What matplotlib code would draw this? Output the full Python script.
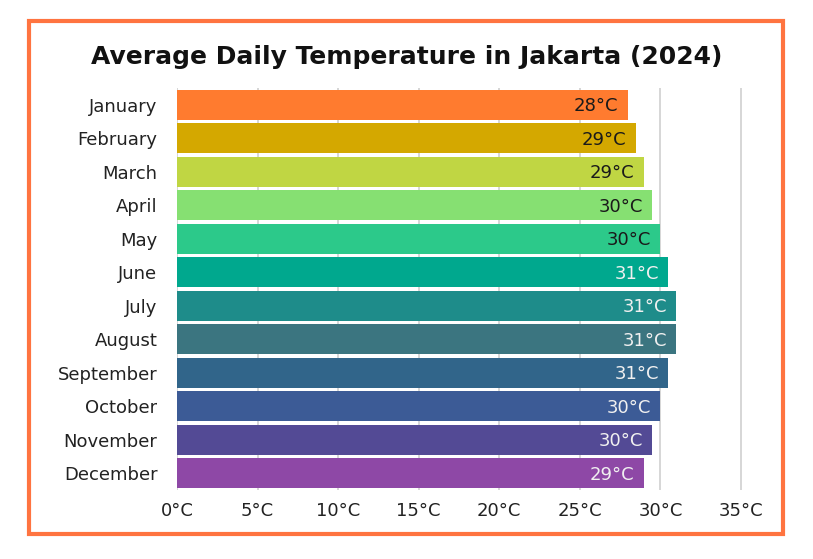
import matplotlib
matplotlib.use("Agg")
from matplotlib import pyplot as plt
from matplotlib.patches import Rectangle

plt.rcParams['font.family'] = ['DejaVu Sans']

# data
months = ["January", "February", "March", "April", "May", "June",
          "July", "August", "September", "October", "November", "December"]
temps = [28, 28.5, 29, 29.5, 30, 30.5, 31, 31, 30.5, 30, 29.5, 29]
bar_colors = ["#FF7B2F", "#D4A800", "#C0D643", "#86E072", "#2CC98A", "#00A88E",
              "#1E8C8A", "#3B7580", "#31658A", "#3C5B96", "#534A95", "#8E48A6"]
label_colors = ["#1a1a1a"] * 5 + ["#f0f0f0"] * 7
ticks = [0, 5, 10, 15, 20, 25, 30, 35]

fig = plt.figure(figsize=(8.13, 5.59), dpi=100)
W, H = 813, 559
ax = fig.add_axes([177 / W, 1 - 490 / H, (749 - 177) / W, (490 - 88) / H])

ypos = list(range(len(months)))
ax.barh(ypos, temps, height=0.9, color=bar_colors, edgecolor="none", zorder=2)
for y, t, c in zip(ypos, temps, label_colors):
    ax.annotate(f"{int(t + 0.5)}°C", xy=(t, y), xytext=(-7, -1), textcoords="offset points",
                ha="right", va="center", fontsize=13, color=c, zorder=3)

ax.set_xlim(0, 35.5)
ax.set_ylim(len(months) - 0.5, -0.5)
ax.set_yticks(ypos)
ax.set_yticklabels(months, fontsize=13, color="#222222")
ax.set_xticks(ticks)
ax.set_xticklabels([f"{t}°C" for t in ticks], fontsize=13, color="#222222")
ax.tick_params(length=0)
ax.tick_params(axis="x", pad=9)
ax.tick_params(axis="y", pad=14)
ax.grid(axis="x", color="#d0d0d0", linewidth=1.2, zorder=1)
for s in ax.spines.values():
    s.set_visible(False)

fig.text(0.5, 1 - 57 / H, "Average Daily Temperature in Jakarta (2024)", ha="center", va="center",
         fontsize=18, fontweight="bold", color="#111111")

fig.patches.append(Rectangle((29 / W, 1 - 534 / H), (783 - 29) / W, (534 - 21) / H,
                             transform=fig.transFigure, fill=False, edgecolor="#FF7440", linewidth=3))

fig.savefig("out.png", dpi=100)
